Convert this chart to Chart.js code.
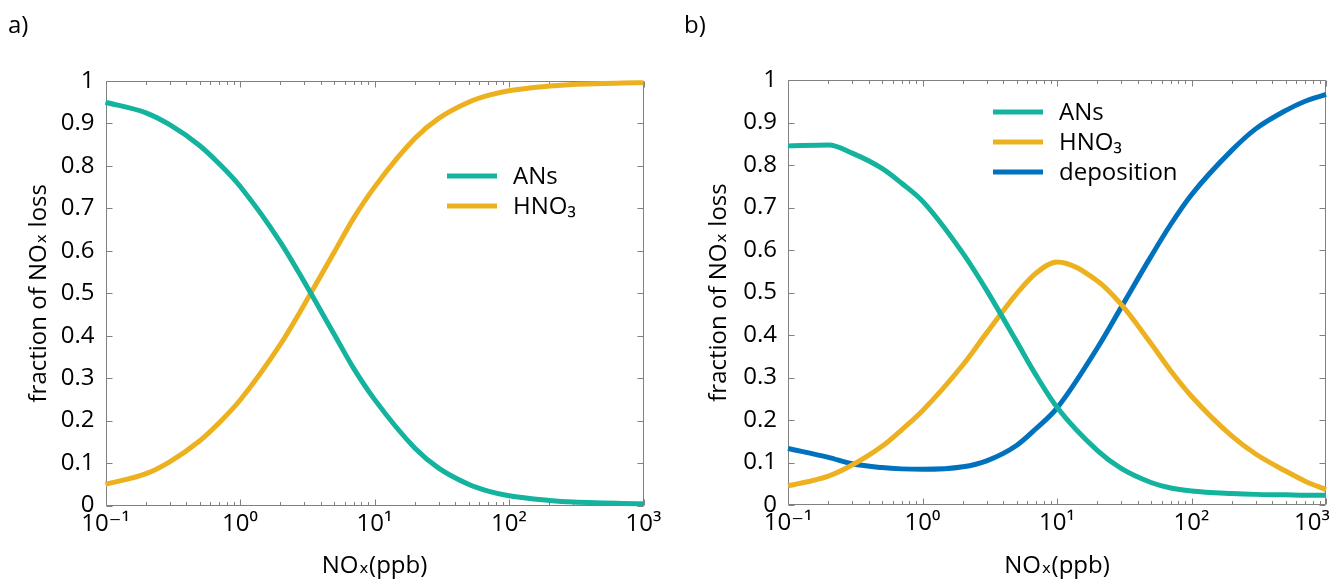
<!DOCTYPE html>
<html>
<head>
<meta charset="utf-8">
<script src="https://cdn.jsdelivr.net/npm/chart.js"></script>
<style>
  html, body { margin: 0; padding: 0; background: #fff; }
  body { width: 1338px; height: 587px; position: relative; overflow: hidden; }
  .panel { position: absolute; top: 0; width: 669px; height: 587px; }
  #panelA { left: 0; }
  #panelB { left: 669px; }
</style>
</head>
<body>
<div class="panel" id="panelA"><canvas id="chartA" width="669" height="587"></canvas></div>
<div class="panel" id="panelB"><canvas id="chartB" width="669" height="587"></canvas></div>
<script>
// NOx levels (ppb) the curves were read at
const noxLevels = [0.1, 0.2, 0.3, 0.5, 0.7, 1, 2, 3, 5, 7, 10, 20, 30, 50, 70, 100, 200, 300, 500, 700, 1000];

// panel a
const ansA  = [0.950, 0.925, 0.897, 0.848, 0.805, 0.752, 0.620, 0.527, 0.404, 0.323, 0.250, 0.135, 0.088, 0.050, 0.034, 0.023, 0.012, 0.008, 0.006, 0.005, 0.004];
const hno3A = [0.050, 0.075, 0.103, 0.152, 0.195, 0.248, 0.380, 0.473, 0.596, 0.677, 0.750, 0.865, 0.912, 0.950, 0.966, 0.977, 0.988, 0.992, 0.994, 0.995, 0.996];

// panel b
const ansB  = [0.845, 0.847, 0.828, 0.792, 0.757, 0.715, 0.592, 0.505, 0.385, 0.305, 0.230, 0.128, 0.086, 0.053, 0.040, 0.033, 0.027, 0.025, 0.024, 0.023, 0.023];
const hno3B = [0.045, 0.068, 0.094, 0.138, 0.177, 0.222, 0.330, 0.405, 0.497, 0.546, 0.572, 0.527, 0.472, 0.380, 0.316, 0.256, 0.162, 0.120, 0.080, 0.056, 0.036];
const depB  = [0.133, 0.112, 0.097, 0.088, 0.085, 0.084, 0.090, 0.104, 0.140, 0.180, 0.228, 0.370, 0.465, 0.585, 0.660, 0.730, 0.835, 0.885, 0.928, 0.950, 0.966];

// axes
const xTickValues = [0.1, 1, 10, 100, 1000];
const xTickLabels = ['10⁻¹', '10⁰', '10¹', '10²', '10³'];
const yTickValues = [0, 0.1, 0.2, 0.3, 0.4, 0.5, 0.6, 0.7, 0.8, 0.9, 1];
const yTickLabels = ['0', '0.1', '0.2', '0.3', '0.4', '0.5', '0.6', '0.7', '0.8', '0.9', '1'];

const FONT = "'Open Sans', 'DejaVu Sans', sans-serif";
const TEAL = '#14b39e';
const GOLD = '#edb120';
const BLUE = '#0072bd';

Chart.defaults.font.family = FONT;
Chart.defaults.font.size = 24;
Chart.defaults.color = '#000';

// minor tick positions on the log axis: 2..9 of each decade
const xMinor = [];
for (let d = 0.1; d < 1000; d *= 10) {
  for (let k = 2; k <= 9; k++) xMinor.push(+(k * d).toPrecision(3));
}

// box round the plot with inward ticks, matlab style
const frame = {
  id: 'frame',
  beforeDatasetsDraw(chart) {
    const { ctx, chartArea: a, scales: { x, y } } = chart;
    const L = Math.round(a.left) + 0.5, R = Math.round(a.right) - 0.5;
    const T = Math.round(a.top) + 0.5, B = Math.round(a.bottom) - 0.5;
    ctx.save();
    ctx.strokeStyle = '#808080';
    ctx.lineWidth = 1;
    ctx.beginPath();
    ctx.rect(L, T, R - L, B - T);
    yTickValues.forEach(v => {
      const py = Math.round(y.getPixelForValue(v)) + 0.5;
      ctx.moveTo(L, py); ctx.lineTo(L + 6, py);
      ctx.moveTo(R, py); ctx.lineTo(R - 6, py);
    });
    const tick = (v, len) => {
      const px = Math.round(x.getPixelForValue(v)) + 0.5;
      ctx.moveTo(px, B); ctx.lineTo(px, B - len);
      ctx.moveTo(px, T); ctx.lineTo(px, T + len);
    };
    xTickValues.forEach(v => tick(v, 6));
    xMinor.forEach(v => tick(v, 3.5));
    ctx.stroke();
    ctx.restore();
  }
};

// legend placed inside the plot
const lineLegend = {
  id: 'lineLegend',
  afterDatasetsDraw(chart, args, opts) {
    const { ctx } = chart;
    ctx.save();
    ctx.font = '24px ' + FONT;
    ctx.textBaseline = 'middle';
    chart.data.datasets.forEach((ds, i) => {
      const yy = opts.y + i * opts.rowGap;
      ctx.strokeStyle = ds.borderColor;
      ctx.lineWidth = 5;
      ctx.beginPath();
      ctx.moveTo(opts.x, yy);
      ctx.lineTo(opts.x + 50, yy);
      ctx.stroke();
      ctx.fillStyle = '#000';
      ctx.fillText(ds.label, opts.x + 66, yy + 1);
    });
    ctx.restore();
  }
};

const panelTag = {
  id: 'panelTag',
  afterDraw(chart, args, opts) {
    const { ctx } = chart;
    ctx.save();
    ctx.font = '24px ' + FONT;
    ctx.fillStyle = '#000';
    ctx.textBaseline = 'alphabetic';
    ctx.fillText(opts.text, opts.x, opts.y);
    ctx.restore();
  }
};

function series(label, values, color) {
  return {
    label: label,
    data: noxLevels.map((v, i) => ({ x: v, y: values[i] })),
    borderColor: color,
    backgroundColor: color,
    borderWidth: 5,
    pointRadius: 0,
    cubicInterpolationMode: 'monotone',
    clip: false
  };
}

function makeChart(id, datasets, p) {
  return new Chart(document.getElementById(id), {
    type: 'line',
    data: { datasets: datasets },
    plugins: [frame, lineLegend, panelTag],
    options: {
      responsive: false,
      animation: false,
      layout: { padding: { left: 0, top: p.top, right: p.right, bottom: 0 } },
      plugins: {
        legend: { display: false },
        tooltip: { enabled: false },
        lineLegend: p.legend,
        panelTag: p.tag
      },
      scales: {
        x: {
          type: 'logarithmic',
          min: 0.1,
          max: 1000,
          grid: { display: false, drawTicks: false },
          border: { display: false },
          afterBuildTicks: s => { s.ticks = xTickValues.map(v => ({ value: v })); },
          afterFit: s => { s.height = p.xHeight; s.paddingLeft = 0; s.paddingRight = 0; },
          ticks: {
            autoSkip: false,
            maxRotation: 0,
            padding: 4,
            color: '#000',
            callback: (v, i) => xTickLabels[i] + (i === xTickLabels.length - 1 ? p.lastPad : '')
          },
          title: { display: true, text: 'NOₓ(ppb)', color: '#000', padding: { top: 0, bottom: 6 } }
        },
        y: {
          type: 'linear',
          min: 0,
          max: 1,
          grid: { display: false, drawTicks: false },
          border: { display: false },
          afterBuildTicks: s => { s.ticks = yTickValues.map(v => ({ value: v })); },
          afterFit: s => { s.width = p.yWidth; s.paddingTop = 0; s.paddingBottom = 0; },
          ticks: {
            padding: 11,
            color: '#000',
            callback: (v, i) => yTickLabels[i]
          },
          title: { display: true, text: 'fraction of NOₓ loss', color: '#000', padding: { top: p.yTitlePad, bottom: 0 } }
        }
      }
    }
  });
}

makeChart('chartA', [
  series('ANs', ansA, TEAL),
  series('HNO₃', hno3A, GOLD)
], {
  top: 81, right: 25.5, xHeight: 81.5, yWidth: 105.5, yTitlePad: 25, lastPad: '',
  legend: { x: 447, y: 176, rowGap: 30 },
  tag: { text: 'a)', x: 8, y: 33 }
});

makeChart('chartB', [
  series('ANs', ansB, TEAL),
  series('HNO₃', hno3B, GOLD),
  series('deposition', depB, BLUE)
], {
  top: 80, right: 12, xHeight: 82, yWidth: 119, yTitlePad: 36, lastPad: '\u2003\u2009',
  legend: { x: 324, y: 112, rowGap: 30 },
  tag: { text: 'b)', x: 15, y: 33 }
});
</script>
</body>
</html>
